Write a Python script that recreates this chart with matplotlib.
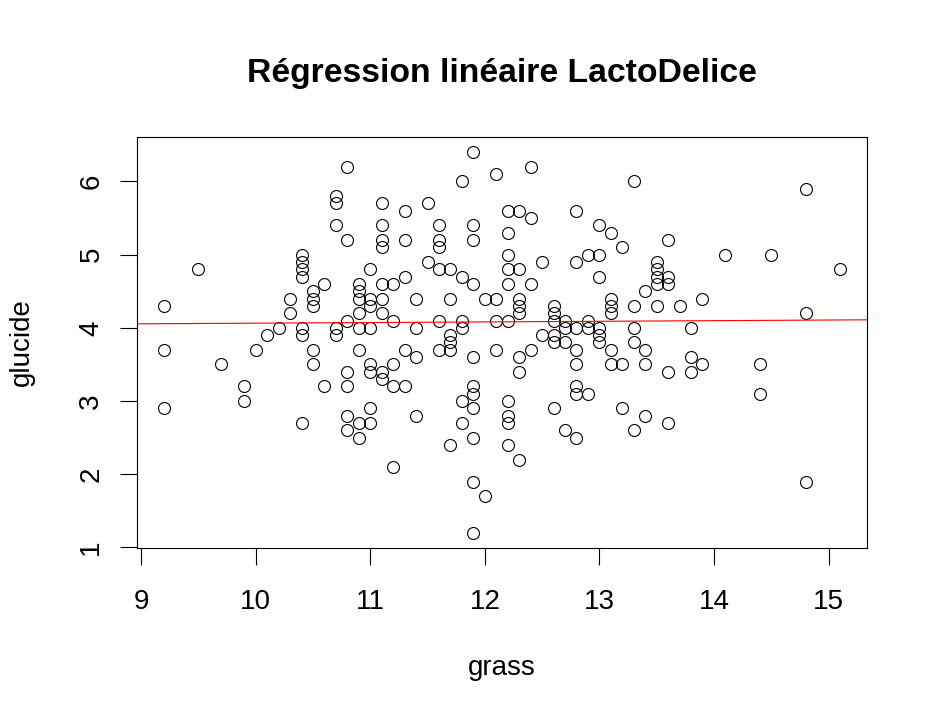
import matplotlib
matplotlib.use("Agg")
import matplotlib.pyplot as plt
import numpy as np

# data (grass vs glucide)
grass = [9.2, 9.2, 9.2,
         9.5, 9.7, 9.9, 9.9, 10.0, 10.1, 10.2,
         10.3, 10.3,
         10.4, 10.4, 10.4, 10.4, 10.4, 10.4, 10.4,
         10.5, 10.5, 10.5, 10.5, 10.5,
         10.6, 10.6,
         10.7, 10.7, 10.7, 10.7, 10.7,
         10.8, 10.8, 10.8, 10.8, 10.8, 10.8, 10.8,
         10.9, 10.9, 10.9, 10.9, 10.9, 10.9, 10.9, 10.9,
         11.0, 11.0, 11.0, 11.0, 11.0, 11.0, 11.0, 11.0,
         11.1, 11.1, 11.1, 11.1, 11.1, 11.1, 11.1, 11.1, 11.1,
         11.2, 11.2, 11.2, 11.2, 11.2,
         11.3, 11.3, 11.3, 11.3, 11.3,
         11.4, 11.4, 11.4, 11.4,
         11.5, 11.5,
         11.6, 11.6, 11.6, 11.6, 11.6, 11.6,
         11.7, 11.7, 11.7, 11.7, 11.7, 11.7,
         11.8, 11.8, 11.8, 11.8, 11.8, 11.8,
         11.9, 11.9, 11.9, 11.9, 11.9, 11.9, 11.9, 11.9, 11.9, 11.9, 11.9,
         12.0, 12.0,
         12.1, 12.1, 12.1, 12.1,
         12.2, 12.2, 12.2, 12.2, 12.2, 12.2, 12.2, 12.2, 12.2, 12.2,
         12.3, 12.3, 12.3, 12.3, 12.3, 12.3, 12.3, 12.3,
         12.4, 12.4, 12.4, 12.4,
         12.5, 12.5,
         12.6, 12.6, 12.6, 12.6, 12.6, 12.6,
         12.7, 12.7, 12.7, 12.7,
         12.8, 12.8, 12.8, 12.8, 12.8, 12.8, 12.8, 12.8,
         12.9, 12.9, 12.9, 12.9,
         13.0, 13.0, 13.0, 13.0, 13.0, 13.0,
         13.1, 13.1, 13.1, 13.1, 13.1, 13.1,
         13.2, 13.2, 13.2,
         13.3, 13.3, 13.3, 13.3, 13.3,
         13.4, 13.4, 13.4, 13.4,
         13.5, 13.5, 13.5, 13.5, 13.5,
         13.6, 13.6, 13.6, 13.6, 13.6,
         13.7,
         13.8, 13.8, 13.8,
         13.9, 13.9,
         14.1, 14.4, 14.4, 14.5,
         14.8, 14.8, 14.8,
         15.1]

glucide = [4.3, 3.7, 2.9,
           4.8, 3.5, 3.2, 3.0, 3.7, 3.9, 4.0,
           4.4, 4.2,
           5.0, 4.9, 4.8, 4.7, 4.0, 3.9, 2.7,
           4.5, 4.4, 4.3, 3.7, 3.5,
           4.6, 3.2,
           5.8, 5.7, 5.4, 4.0, 3.9,
           6.2, 5.2, 4.1, 3.4, 3.2, 2.8, 2.6,
           4.6, 4.5, 4.4, 4.2, 4.0, 3.7, 2.7, 2.5,
           4.8, 4.4, 4.3, 4.0, 3.5, 3.4, 2.9, 2.7,
           5.7, 5.4, 5.2, 5.1, 4.6, 4.4, 4.2, 3.4, 3.3,
           4.6, 4.1, 3.5, 3.2, 2.1,
           5.6, 5.2, 4.7, 3.7, 3.2,
           4.4, 4.0, 3.6, 2.8,
           5.7, 4.9,
           5.4, 5.2, 5.1, 4.8, 4.1, 3.7,
           4.8, 4.4, 3.9, 3.8, 3.7, 2.4,
           6.0, 4.7, 4.1, 4.0, 3.0, 2.7,
           6.4, 5.4, 5.2, 4.6, 3.6, 3.2, 3.1, 2.9, 2.5, 1.9, 1.2,
           4.4, 1.7,
           6.1, 4.4, 4.1, 3.7,
           5.6, 5.3, 5.0, 4.8, 4.6, 4.1, 3.0, 2.8, 2.7, 2.4,
           5.6, 4.8, 4.4, 4.3, 4.2, 3.6, 3.4, 2.2,
           6.2, 5.5, 4.6, 3.7,
           4.9, 3.9,
           4.3, 4.2, 4.1, 3.9, 3.8, 2.9,
           4.1, 4.0, 3.8, 2.6,
           5.6, 4.9, 4.0, 3.7, 3.5, 3.2, 3.1, 2.5,
           5.0, 4.1, 4.0, 3.1,
           5.4, 5.0, 4.7, 4.0, 3.9, 3.8,
           5.3, 4.4, 4.3, 4.2, 3.7, 3.5,
           5.1, 3.5, 2.9,
           6.0, 4.3, 4.0, 3.8, 2.6,
           4.5, 3.7, 3.5, 2.8,
           4.9, 4.8, 4.7, 4.6, 4.3,
           5.2, 4.7, 4.6, 3.4, 2.7,
           4.3,
           4.0, 3.6, 3.4,
           4.4, 3.5,
           5.0, 3.5, 3.1, 5.0,
           5.9, 4.2, 1.9,
           4.8]

# lm coefficients (overlapping points hide some data)
intercept = 3.978
slope = 0.0086

x_ticks = [9, 10, 11, 12, 13, 14, 15]
y_ticks = [1, 2, 3, 4, 5, 6]

x = np.array(grass)
y = np.array(glucide)

plt.rcParams['font.family'] = ['Liberation Sans', 'DejaVu Sans']

fig = plt.figure(figsize=(9.38, 7.19), dpi=100)
ax = fig.add_axes([137 / 938, 1 - 548 / 719, 730 / 938, 411 / 719])

ax.plot(x, y, linestyle="none", marker="o", markersize=8.6,
        markerfacecolor="none", markeredgecolor="black", markeredgewidth=0.8)

# R style axis ranges (4% extension)
xr = x.max() - x.min()
yr = y.max() - y.min()
ax.set_xlim(x.min() - 0.04 * xr, x.max() + 0.04 * xr)
ax.set_ylim(y.min() - 0.04 * yr, y.max() + 0.04 * yr)

# abline(fit, col="red")
xs = np.array(ax.get_xlim())
ax.plot(xs, intercept + slope * xs, color="red", linewidth=0.8)

ax.set_xticks(x_ticks)
ax.set_yticks(y_ticks)
ax.tick_params(direction="out", length=12.5, width=0.8, labelsize=20)
ax.tick_params(axis="x", pad=17)
ax.tick_params(axis="y", pad=11)
for lab in ax.get_yticklabels():
    lab.set_rotation(90)
    lab.set_va("center")

for sp in ax.spines.values():
    sp.set_linewidth(0.8)

fig.text(502 / 938, 1 - 82 / 719, "Régression linéaire LactoDelice",
         ha="center", va="baseline", fontsize=24.3, fontweight="bold")
fig.text(502 / 938, 1 - 668 / 719, "grass", ha="center", va="center", fontsize=20)
fig.text(22 / 938, 1 - 342 / 719, "glucide", ha="center", va="center",
         rotation=90, fontsize=20)

fig.savefig("out.png", dpi=100)
